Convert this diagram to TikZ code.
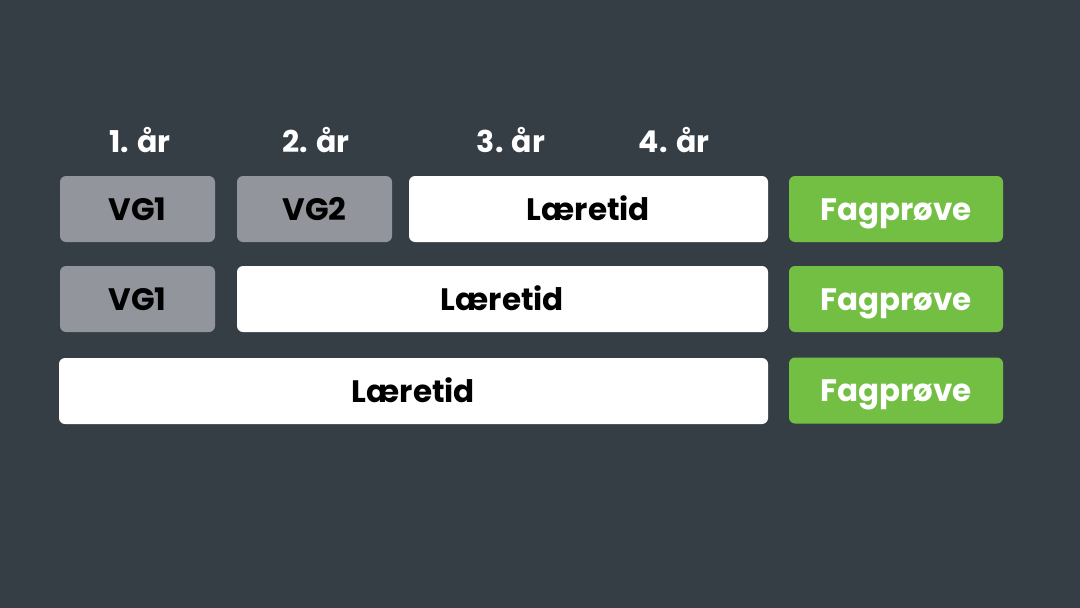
\documentclass[tikz,border=0pt]{standalone}
\usepackage{fontspec}
\setmainfont{Poppins}
\definecolor{bg}{HTML}{363E45}
\definecolor{vg}{HTML}{93959D}
\definecolor{fg}{HTML}{72BF44}
\tikzset{
  box/.style={rounded corners=6pt, minimum height=66pt, inner sep=0pt, text height=30pt, text depth=8pt, font=\fontsize{31}{34}\selectfont\bfseries},
  vgbox/.style={box, fill=vg, text=black, minimum width=155pt},
  lbox/.style={box, fill=white, text=black},
  fbox/.style={box, fill=fg, text=white, minimum width=214pt},
  yr/.style={text=white, inner sep=0pt, text height=30pt, text depth=8pt, font=\fontsize{30}{33}\selectfont\bfseries}
}
\begin{document}
\begin{tikzpicture}[x=1pt,y=-1pt]
\fill[bg] (0,0) rectangle (1080,608);
\useasboundingbox (0,0) rectangle (1080,608);
\node[yr] (y1) at (140,141) {1. år};
\node[yr] (y2) at (316,141) {2. år};
\node[yr] (y3) at (511,141) {3. år};
\node[yr] (y4) at (674,141) {4. år};
% row 1
\node[vgbox] (a1) at (137.5,209) {VG1};
\node[vgbox] (a2) at (314.5,209) {VG2};
\node[lbox, minimum width=359pt] (a3) at (588.5,209) {Læretid};
\node[fbox] (a4) at (896,209) {Fagprøve};
% row 2
\node[vgbox] (b1) at (137.5,299) {VG1};
\node[lbox, minimum width=531pt] (b2) at (502.5,299) {Læretid};
\node[fbox] (b3) at (896,299) {Fagprøve};
% row 3
\node[lbox, minimum width=709pt] (c1) at (413.5,391) {Læretid};
\node[fbox] (c2) at (896,390.5) {Fagprøve};
\end{tikzpicture}
\end{document}
